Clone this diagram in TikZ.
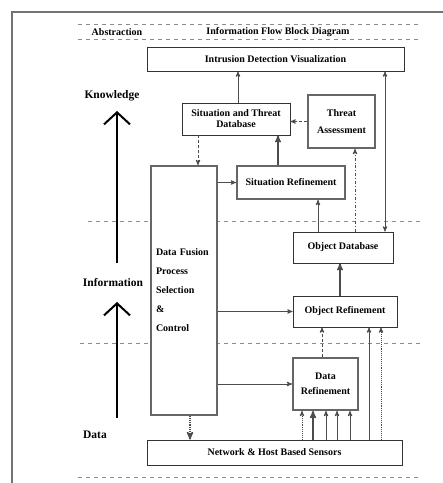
\documentclass[tikz,border=0pt]{standalone}
\usepackage{fontspec}
\setmainfont{Liberation Serif}
\usetikzlibrary{calc}
\usetikzlibrary{arrows}
\usetikzlibrary{arrows.meta}

\tikzset{
  blk/.style={draw=black!80,fill=white,line width=0.8pt,align=center,
    font=\bfseries\fontsize{10}{11}\selectfont,inner sep=2pt},
  heavyblk/.style={blk,line width=1.8pt,draw=black!60},
  lvl/.style={font=\bfseries\fontsize{11.5}{13}\selectfont},
  sep/.style={black!45,line width=0.7pt,dash pattern=on 4pt off 4pt},
  flow/.style={black!70,line width=0.9pt,->,>=stealth'},
  fdot/.style={densely dotted},
  fthick/.style={line width=1.5pt},
  fplain/.style={},
  bigup/.style={black,line width=2pt,-{Straight Barb[length=12pt,width=26pt,line width=2pt]}},
}

\begin{document}
\begin{tikzpicture}[x=1pt,y=-1pt]
        \useasboundingbox (0,0) rectangle (443,483);
        \draw[black!55,line width=2pt] (12,483) -- (12,12) -- (443,12);

        \draw[sep] (78,24) -- (420,24);
        \draw[sep] (78,39) -- (420,39);
        \draw[sep] (88,221) -- (420,221);
        \draw[sep] (80,343) -- (420,343);
        \draw[sep] (78,477) -- (420,477);

        \node[lvl,font=\bfseries\fontsize{10}{11}\selectfont] (abs) at (117,32) {Abstraction};
        \node[lvl,font=\bfseries\fontsize{10}{11}\selectfont] (ttl) at (278,32) {Information Flow Block Diagram};

        \node[lvl] (knw) at (112,96) {Knowledge};
        \node[lvl] (inf) at (113,283) {Information};
        \node[lvl] (dat) at (95,435) {Data};

        \coordinate (kbase) at (117,263);
        \coordinate (ktip) at (117,111);
        \coordinate (ibase) at (117,418);
        \coordinate (itip) at (117,302);
        \draw[bigup] (kbase) -- (ktip);
        \draw[bigup] (ibase) -- (itip);

        \node[blk,minimum width=257pt,minimum height=24pt] (idv) at (275.5,59) {Intrusion Detection Visualization};
        \node[blk,minimum width=108pt,minimum height=32pt,font=\bfseries\fontsize{10}{11}\selectfont] (std) at (236,119) {Situation and Threat\\Database};
        \node[heavyblk,minimum width=67pt,minimum height=53pt,font=\bfseries\fontsize{10}{17}\selectfont] (ta) at (341.5,121.5) {Threat\\Assessment};
        \node[heavyblk,minimum width=108pt,minimum height=33pt] (sr) at (291,182.5) {Situation Refinement};
        \node[heavyblk,text width=56pt,inner xsep=5pt,minimum height=249pt,align=left,
              font=\bfseries\fontsize{10}{19}\selectfont] (dfp) at (184,290.5) {Data Fusion\\Process\\Selection\\\&\\Control};
        \node[blk,minimum width=100pt,minimum height=31pt] (odb) at (343,247.5) {Object Database};
        \node[blk,minimum width=104pt,minimum height=31pt] (orf) at (345,311.5) {Object Refinement};
        \node[heavyblk,minimum width=65pt,minimum height=52pt,font=\bfseries\fontsize{10}{15}\selectfont] (drf) at (325.5,384) {Data\\Refinement};
        \node[blk,minimum width=255pt,minimum height=25pt] (nhs) at (274.5,452.5) {Network \& Host Based Sensors};

        \coordinate (xa) at (238,0);
        \coordinate (xb) at (385,0);
        \coordinate (xc) at (198,0);
        \coordinate (xd) at (278,0);
        \coordinate (xe) at (355,0);
        \coordinate (xf) at (318,0);
        \coordinate (xg) at (340,0);
        \coordinate (xh) at (322,0);
        \coordinate (xi) at (369,0);
        \coordinate (xj) at (381,0);
        \coordinate (xk) at (190,0);

        \draw[flow] (std.north -| xa) -- (idv.south -| xa);
        \draw[flow,<->] (odb.north -| xb) -- (idv.south -| xb);
        \draw[flow,densely dashed] (ta.west) -- (std.east |- ta.west);
        \draw[flow,densely dashed] (std.south -| xc) -- (dfp.north -| xc);
        \draw[flow,line width=1.4pt] (sr.north -| xd) -- (std.south -| xd);
        \draw[flow] (dfp.east |- sr.west) -- (sr.west);
        \draw[flow,dash dot] (odb.north -| xe) -- (ta.south -| xe);
        \draw[flow] (odb.north -| xf) -- (sr.south -| xf);
        \draw[flow,line width=1.4pt] (orf.north -| xg) -- (odb.south -| xg);
        \draw[flow] (dfp.east |- orf.west) -- (orf.west);
        \draw[flow,densely dashed] (drf.north -| xh) -- (orf.south -| xh);
        \draw[flow] (nhs.north -| xi) -- (orf.south -| xi);
        \draw[flow,densely dotted] (nhs.north -| xj) -- (orf.south -| xj);
        \draw[flow] (dfp.east |- drf.west) -- (drf.west);
        \draw[flow,densely dotted,line width=1.6pt] (dfp.south -| xk) -- (nhs.north -| xk);

        \foreach \x/\s in {302/fdot,313/fthick,326/fplain,337/fplain,350/fplain}{
          \coordinate (xs) at (\x,0);
          \draw[flow,\s] (nhs.north -| xs) -- (drf.south -| xs);
        }
\end{tikzpicture}
\end{document}
